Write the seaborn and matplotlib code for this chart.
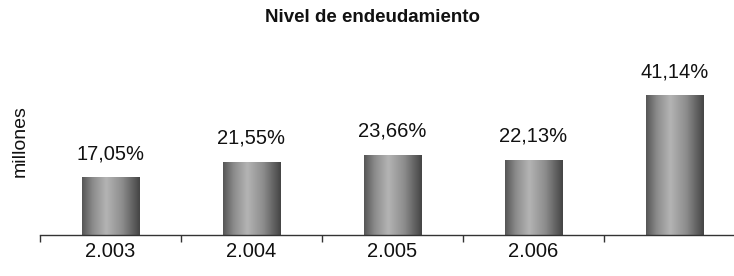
import seaborn as sns
import matplotlib.pyplot as plt
import numpy as np
from matplotlib.colors import LinearSegmentedColormap

# Datos
years = ['2003', '2004', '2005', '2006', '2007']
tick_labels = ['2.003', '2.004', '2.005', '2.006', '']
nivel = [17.05, 21.55, 23.66, 22.13, 41.14]
value_labels = ['17,05%', '21,55%', '23,66%', '22,13%', '41,14%']

sns.set_style('white')
plt.rcParams['font.family'] = ['Liberation Sans', 'DejaVu Sans']

fig = plt.figure(figsize=(7.34, 2.76), dpi=100)
ax = fig.add_axes([40 / 734, 1 - 235 / 276, 705 / 734, (235 - 47) / 276])

sns.barplot(x=years, y=nivel, ax=ax, width=0.41, color='#888888', errorbar=None)

# degradado horizontal tipo cilindro
cmap = LinearSegmentedColormap.from_list(
    'cil', [(0.0, '#555555'), (0.18, '#8a8a8a'), (0.42, '#b4b4b4'),
            (0.7, '#8c8c8c'), (1.0, '#444444')])
grad = np.linspace(0, 1, 256).reshape(1, -1)
for i, p in enumerate(ax.patches):
    x0, y0 = p.get_x(), p.get_y()
    w, h = p.get_width(), p.get_height()
    p.set_facecolor('none')
    p.set_edgecolor('none')
    im = ax.imshow(grad, extent=[x0, x0 + w, y0, y0 + h], aspect='auto',
                   cmap=cmap, zorder=2, interpolation='bicubic')
    im.set_clip_path(p)
    ax.annotate(value_labels[i], (x0 + w / 2, y0 + h),
                xytext=(0, 10), textcoords='offset points',
                ha='center', va='bottom', fontsize=14.5, color='#111111')

ax.set_xlim(-0.5, 4.5)
ax.set_ylim(0, (235 - 47) / 3.40)

sns.despine(ax=ax, left=True, top=True, right=True)
ax.spines['bottom'].set_color('#333333')
ax.spines['bottom'].set_linewidth(1.0)
ax.set_yticks([])
ax.set_xticks(range(len(years)))
ax.set_xticklabels(tick_labels, fontsize=14.5, color='#111111')
ax.set_xticks(np.arange(-0.5, 4.6, 1), minor=True)
ax.tick_params(axis='x', which='major', length=0, pad=5)
ax.tick_params(axis='x', which='minor', length=5, width=1, color='#333333',
               bottom=True, direction='out')

ax.set_ylabel('millones', fontsize=14, color='#111111')
ax.yaxis.set_label_coords(-11 / 705, (235 - 141) / 188)

fig.text(372 / 734, 1 - 17 / 276, 'Nivel de endeudamiento', ha='center',
         va='center', fontsize=13.5, fontweight='bold', color='#111111')

fig.savefig('out.png', dpi=100)
